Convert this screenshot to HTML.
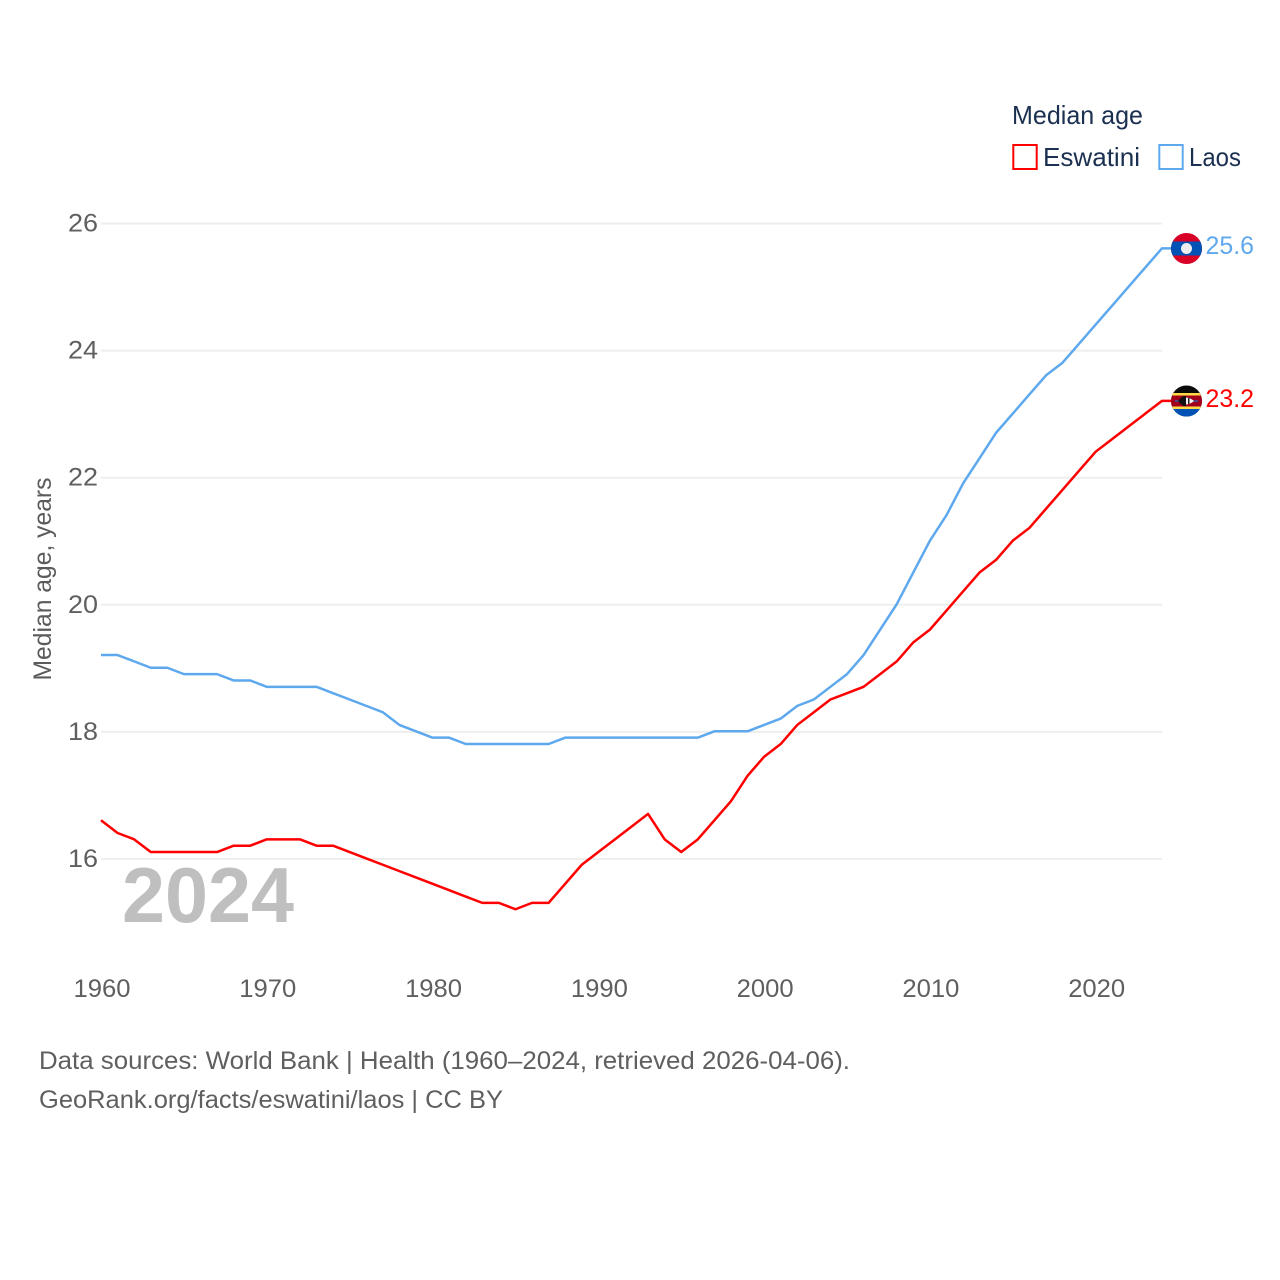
<!DOCTYPE html>
<html lang="en">
<head>
<meta charset="utf-8">
<title>Median age: Eswatini and Laos</title>
<style>
html,body{margin:0;padding:0;background:#fff;width:1280px;height:1280px;overflow:hidden}
svg{display:block}
text{font-family:"Liberation Sans",sans-serif}
</style>
</head>
<body>
<svg id="chart" xmlns="http://www.w3.org/2000/svg" width="1280" height="1280" viewBox="0 0 1280 1280">
<defs>
<clipPath id="clip-laos"><circle cx="1186.5" cy="248.500" r="15.500"/></clipPath>
<clipPath id="clip-eswatini"><circle cx="1186.5" cy="401" r="15.500"/></clipPath>
</defs>
<g id="grid"></g>
<g id="yticks"></g>
<g id="xticks"></g>
<text transform="translate(51,579) rotate(-90)" text-anchor="middle" font-size="25" fill="#5b5b5b" textLength="203" lengthAdjust="spacingAndGlyphs">Median age, years</text>
<text x="122" y="922" font-size="78" font-weight="bold" fill="#bfbfbf" textLength="172" lengthAdjust="spacingAndGlyphs">2024</text>
<g id="series"></g>

<g clip-path="url(#clip-laos)">
<rect x="1170" y="232" width="33" height="33" fill="#d80027"/>
<rect x="1170" y="241.500" width="33" height="14" fill="#0052b4"/>
<circle cx="1186.500" cy="248.500" r="5.500" fill="#eeeeee"/>
</g>
<g clip-path="url(#clip-eswatini)">
<rect x="1170" y="385" width="33" height="33" fill="#0b0b0b"/>
<rect x="1170" y="393" width="33" height="25" fill="#0052b4"/>
<rect x="1170" y="393" width="33" height="16" fill="#ffda44"/>
<rect x="1170" y="395.500" width="33" height="11" fill="#a2001d"/>
<rect x="1175" y="400.300" width="23" height="1.400" fill="#2f5fb0"/>
<path d="M1178 401 Q1186 394 1194 401 Q1186 408 1178 401Z" fill="#f4f4f4"/>
<path d="M1178 401 Q1183 395 1186 396 L1186 406 Q1183 407 1178 401Z" fill="#111"/>
<rect x="1188" y="398" width="1.500" height="6" fill="#222"/>
</g>
<text x="1205.500" y="254" font-size="25" fill="#5ea8ee" textLength="48.500" lengthAdjust="spacingAndGlyphs">25.6</text>
<text x="1205.500" y="407" font-size="25" fill="#ff0000" textLength="48.500" lengthAdjust="spacingAndGlyphs">23.2</text>

<g>
<text x="1012" y="124" font-size="26" fill="#1b3050" textLength="131" lengthAdjust="spacingAndGlyphs">Median age</text>
<rect x="1013.300" y="145" width="23.400" height="24" fill="none" stroke="#ff0000" stroke-width="2"/>
<text x="1043" y="166" font-size="26" fill="#1b3050" textLength="97" lengthAdjust="spacingAndGlyphs">Eswatini</text>
<rect x="1159.300" y="145" width="23.400" height="24" fill="none" stroke="#5ea8ee" stroke-width="2"/>
<text x="1189" y="166" font-size="26" fill="#1b3050" textLength="52" lengthAdjust="spacingAndGlyphs">Laos</text>
</g>

<text x="39" y="1069" font-size="25" fill="#5f5f5f" textLength="811" lengthAdjust="spacingAndGlyphs">Data sources: World Bank | Health (1960–2024, retrieved 2026-04-06).</text>
<text x="39" y="1108" font-size="25" fill="#5f5f5f" textLength="464" lengthAdjust="spacingAndGlyphs">GeoRank.org/facts/eswatini/laos | CC BY</text>
</svg>
<script>
const years = [1960,1961,1962,1963,1964,1965,1966,1967,1968,1969,1970,1971,1972,1973,1974,1975,1976,1977,1978,1979,1980,1981,1982,1983,1984,1985,1986,1987,1988,1989,1990,1991,1992,1993,1994,1995,1996,1997,1998,1999,2000,2001,2002,2003,2004,2005,2006,2007,2008,2009,2010,2011,2012,2013,2014,2015,2016,2017,2018,2019,2020,2021,2022,2023,2024];
const eswatini = [16.6,16.4,16.3,16.1,16.1,16.1,16.1,16.1,16.2,16.2,16.3,16.3,16.3,16.2,16.2,16.1,16.0,15.9,15.8,15.7,15.6,15.5,15.4,15.3,15.3,15.2,15.3,15.3,15.6,15.9,16.1,16.3,16.5,16.7,16.3,16.1,16.3,16.6,16.9,17.3,17.6,17.8,18.1,18.3,18.5,18.6,18.7,18.9,19.1,19.4,19.6,19.9,20.2,20.5,20.7,21.0,21.2,21.5,21.8,22.1,22.4,22.6,22.8,23.0,23.2];
const laos = [19.2,19.2,19.1,19.0,19.0,18.9,18.9,18.9,18.8,18.8,18.7,18.7,18.7,18.7,18.6,18.5,18.4,18.3,18.1,18.0,17.9,17.9,17.8,17.8,17.8,17.8,17.8,17.8,17.9,17.9,17.9,17.9,17.9,17.9,17.9,17.9,17.9,18.0,18.0,18.0,18.1,18.2,18.4,18.5,18.7,18.9,19.2,19.6,20.0,20.5,21.0,21.4,21.9,22.3,22.7,23.0,23.3,23.6,23.8,24.1,24.4,24.7,25.0,25.3,25.6];
const yTickValues = [16,18,20,22,24,26];
const xTickValues = [1960,1970,1980,1990,2000,2010,2020];

const NS = 'http://www.w3.org/2000/svg';
const xScale = function (year) { return 101 + (year - 1960) * (1162 - 101) / 64; };
const yScale = function (value) { return 859 - (value - 16) * (859 - 223.5) / 10; };
const lineOffset = -0.6;

const gridGroup = document.getElementById('grid');
const yGroup = document.getElementById('yticks');
const xGroup = document.getElementById('xticks');
const seriesGroup = document.getElementById('series');

yTickValues.forEach(function (tick) {
  const line = document.createElementNS(NS, 'line');
  
  
  line.setAttribute('x1', 101);
  line.setAttribute('x2', 1162);
  line.setAttribute('y1', yScale(tick));
  line.setAttribute('y2', yScale(tick));
  line.setAttribute('stroke', '#eeeeee');
  line.setAttribute('stroke-width', 2);
  gridGroup.appendChild(line);

  const label = document.createElementNS(NS, 'text');
  
  
  label.setAttribute('x', 98);
  label.setAttribute('y', yScale(tick) + 8);
  label.setAttribute('text-anchor', 'end');
  label.setAttribute('font-size', 25);
  label.setAttribute('fill', '#5f5f5f');
  label.setAttribute('textLength', 30);
  label.setAttribute('lengthAdjust', 'spacingAndGlyphs');
  label.textContent = tick;
  yGroup.appendChild(label);
});

xTickValues.forEach(function (tick) {
  const label = document.createElementNS(NS, 'text');
  
  
  label.setAttribute('x', xScale(tick) + 1);
  label.setAttribute('y', 997);
  label.setAttribute('text-anchor', 'middle');
  label.setAttribute('font-size', 25);
  label.setAttribute('fill', '#5f5f5f');
  label.setAttribute('textLength', 57);
  label.setAttribute('lengthAdjust', 'spacingAndGlyphs');
  label.textContent = tick;
  xGroup.appendChild(label);
});

function pointsFor(values) {
  const pts = values.map(function (v, i) { return xScale(years[i]).toFixed(2) + ',' + (yScale(v) + lineOffset).toFixed(2); });
  const last = values[values.length - 1];
  pts.push('1172,' + (yScale(last) + lineOffset).toFixed(2));
  return pts.join(' ');
}

const eswatiniLine = document.createElementNS(NS, 'polyline');


eswatiniLine.setAttribute('points', pointsFor(eswatini));
eswatiniLine.setAttribute('fill', 'none');
eswatiniLine.setAttribute('stroke', '#ff0000');
eswatiniLine.setAttribute('stroke-width', 2.5);
eswatiniLine.setAttribute('stroke-linejoin', 'round');
seriesGroup.appendChild(eswatiniLine);

const laosLine = document.createElementNS(NS, 'polyline');


laosLine.setAttribute('points', pointsFor(laos));
laosLine.setAttribute('fill', 'none');
laosLine.setAttribute('stroke', '#5ea8ee');
laosLine.setAttribute('stroke-width', 2.5);
laosLine.setAttribute('stroke-linejoin', 'round');
seriesGroup.appendChild(laosLine);
</script>
</body>
</html>
